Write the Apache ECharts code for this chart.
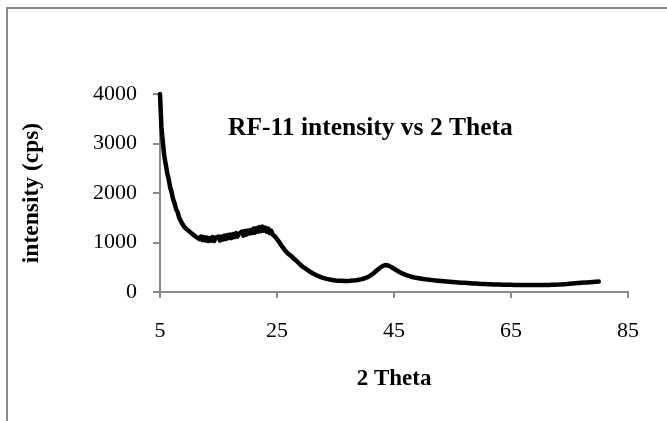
<!DOCTYPE html>
<html>
<head>
<meta charset="utf-8">
<script src="https://cdn.jsdelivr.net/npm/echarts@6/dist/echarts.min.js"></script>
<style>
html,body{margin:0;padding:0;background:#fff;}
#c{width:667px;height:421px;}
</style>
</head>
<body>
<div id="c"></div>
<script>
var chartTitle = 'RF-11 intensity vs 2 Theta';
var xAxisTitle = '2 Theta';
var yAxisTitle = 'intensity (cps)';
var xTicks = [5, 25, 45, 65, 85];
var yTicks = [0, 1000, 2000, 3000, 4000];

var twoTheta = [
  5.00,5.25,5.50,5.75,6.00,6.25,6.50,6.75,7.00,7.25,7.50,7.75,8.00,8.25,8.50,8.75,
  9.00,9.25,9.50,9.75,10.00,10.25,10.50,10.75,11.00,11.25,11.50,11.75,12.00,12.25,12.50,12.75,
  13.00,13.25,13.50,13.75,14.00,14.25,14.50,14.75,15.00,15.25,15.50,15.75,16.00,16.25,16.50,16.75,
  17.00,17.25,17.50,17.75,18.00,18.25,18.50,18.75,19.00,19.25,19.50,19.75,20.00,20.25,20.50,20.75,
  21.00,21.25,21.50,21.75,22.00,22.25,22.50,22.75,23.00,23.25,23.50,23.75,24.00,24.25,24.50,24.75,
  25.00,25.25,25.50,25.75,26.00,26.25,26.50,26.75,27.00,
  27.5,28.0,28.5,29.0,29.5,30.0,30.5,31.0,31.5,32.0,32.5,33.0,33.5,34.0,34.5,35.0,35.5,36.0,36.5,37.0,
  37.5,38.0,38.5,39.0,39.5,40.0,40.5,41.0,41.5,42.0,42.5,43.0,43.5,44.0,44.5,45.0,45.5,46.0,46.5,47.0,
  47.5,48.0,48.5,49.0,49.5,50.0,50.5,51.0,51.5,52.0,52.5,53.0,53.5,54.0,54.5,55.0,55.5,56.0,56.5,57.0,
  57.5,58.0,58.5,59.0,59.5,60.0,60.5,61.0,61.5,62.0,62.5,63.0,63.5,64.0,64.5,65.0,65.5,66.0,66.5,67.0,
  67.5,68.0,68.5,69.0,69.5,70.0,70.5,71.0,71.5,72.0,72.5,73.0,73.5,74.0,74.5,75.0,75.5,76.0,76.5,77.0,
  77.5,78.0,78.5,79.0,79.5,80.0
];
var intensity = [
  4000,3320,3010,2730,2570,2390,2270,2110,2010,1870,1790,1670,1620,1510,1480,1390,
  1380,1300,1300,1250,1250,1200,1210,1150,1170,1110,1140,1070,1120,1050,1110,1040,
  1100,1030,1090,1040,1110,1030,1100,1060,1120,1040,1120,1060,1140,1070,1150,1090,
  1160,1090,1170,1110,1190,1120,1180,1140,1220,1140,1230,1160,1240,1180,1250,1190,
  1280,1200,1290,1220,1310,1230,1320,1240,1300,1220,1280,1190,1240,1160,1180,1110,
  1100,1030,1010,940,930,860,850,790,780,
  720,660,610,550,500,460,420,385,355,325,300,282,265,252,242,234,228,225,222,222,
  225,230,237,247,260,278,300,335,380,430,480,520,545,535,505,470,435,400,370,345,
  325,308,294,282,272,263,255,247,240,233,227,221,216,211,206,201,197,193,189,185,
  181,177,173,170,167,164,161,158,156,154,152,150,148,146,145,144,143,142,141,140,
  140,139,139,139,140,140,141,142,143,145,147,149,152,156,160,166,172,178,182,186,
  190,194,198,202,206,210
];

var seriesData = twoTheta.map(function (t, i) { return [t, intensity[i]]; });
var serif = '"Times New Roman", "Liberation Serif", serif';
var axisGray = '#898989';

var chart = echarts.init(document.getElementById('c'), null, {renderer: 'canvas'});
chart.setOption({
  animation: false,
  backgroundColor: '#fff',
  title: {
    text: chartTitle,
    left: 223,
    top: 110,
    textStyle: {fontFamily: serif, fontSize: 25.5, fontWeight: 'bold', color: '#000'}
  },
  graphic: [{
    type: 'rect',
    shape: {x: 7, y: 8, width: 700, height: 500},
    style: {fill: 'none', stroke: '#8a8a8a', lineWidth: 2},
    silent: true
  }],
  grid: {left: 160, top: 94, width: 468, height: 198, containLabel: false},
  xAxis: {
    type: 'value',
    min: 5, max: 85,
    name: xAxisTitle,
    nameLocation: 'middle',
    nameGap: 76,
    nameTextStyle: {fontFamily: serif, fontSize: 23, fontWeight: 'bold', color: '#000'},
    axisLine: {show: true, onZero: false, lineStyle: {color: axisGray, width: 2}},
    axisTick: {show: true, length: 6, inside: false, customValues: xTicks, lineStyle: {color: axisGray, width: 2}},
    axisLabel: {customValues: xTicks, margin: 28, fontFamily: serif, fontSize: 22, color: '#000'},
    splitLine: {show: false}
  },
  yAxis: {
    type: 'value',
    min: 0, max: 4000, interval: 1000,
    name: yAxisTitle,
    nameLocation: 'middle',
    nameGap: 116,
    nameRotate: 90,
    nameTextStyle: {fontFamily: serif, fontSize: 23.5, fontWeight: 'bold', color: '#000'},
    axisLine: {show: true, lineStyle: {color: axisGray, width: 2}},
    axisTick: {show: true, length: 7, inside: false, lineStyle: {color: axisGray, width: 2}},
    axisLabel: {margin: 23, fontFamily: serif, fontSize: 22, color: '#000',
      formatter: function (v) { return yTicks.indexOf(v) >= 0 ? String(v) : ''; }},
    splitLine: {show: false}
  },
  series: [{
    type: 'line',
    data: seriesData,
    showSymbol: false,
    symbol: 'none',
    smooth: false,
    lineStyle: {color: '#000', width: 4.5, join: 'round', cap: 'round'},
    z: 3
  }]
});
</script>
</body>
</html>
